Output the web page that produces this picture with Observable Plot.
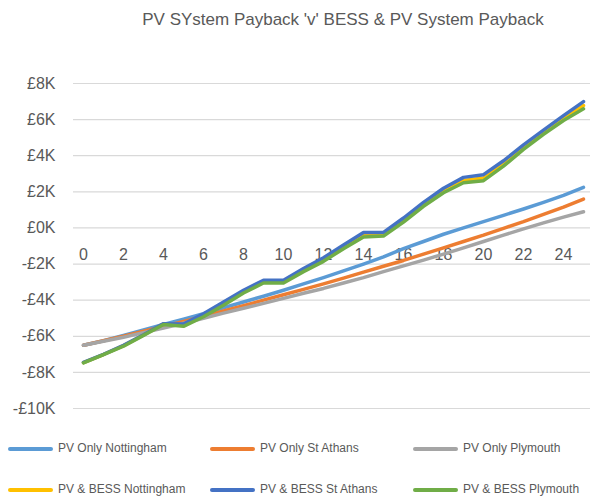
<!DOCTYPE html>
<html>
<head>
<meta charset="utf-8">
<script src="https://cdn.jsdelivr.net/npm/d3@7"></script>
<script src="https://cdn.jsdelivr.net/npm/@observablehq/plot@0.6"></script>
<style>
  html, body { margin: 0; padding: 0; background: #fff; }
  #wrap { position: relative; width: 603px; height: 497px; overflow: hidden; font-family: "Liberation Sans", Arial, sans-serif; color: #595959; }
  #title { position: absolute; left: 0; width: 686px; top: 10px; text-align: center; font-size: 17px; }
  #chart { position: absolute; left: 0; top: 0; }
  .leg { position: absolute; font-size: 12px; white-space: nowrap; }
  .sw { position: absolute; height: 4px; border-radius: 2px; }
</style>
</head>
<body>
<div id="wrap">
  <div id="chart"></div>
  <div id="title">PV SYstem Payback 'v' BESS &amp; PV System Payback</div>
  <div id="legend"></div>
</div>
<script>
const years = [0,1,2,3,4,5,6,7,8,9,10,11,12,13,14,15,16,17,18,19,20,21,22,23,24,25];

const seriesNames = ["PV Only Nottingham","PV Only St Athans","PV Only Plymouth","PV & BESS Nottingham","PV & BESS St Athans","PV & BESS Plymouth"];
const seriesColors = ["#5B9BD5","#ED7D31","#A5A5A5","#FFC000","#4472C4","#70AD47"];

// values in £K
const pvOnlyNottingham = [-6.5,-6.25,-5.95,-5.65,-5.35,-5.05,-4.75,-4.42,-4.1,-3.78,-3.45,-3.1,-2.75,-2.38,-2.0,-1.6,-1.15,-0.75,-0.35,0.0,0.35,0.7,1.05,1.42,1.8,2.25];
const pvOnlyStAthans   = [-6.5,-6.25,-6.0,-5.72,-5.45,-5.18,-4.9,-4.6,-4.3,-4.0,-3.7,-3.4,-3.1,-2.78,-2.45,-2.12,-1.8,-1.45,-1.1,-0.75,-0.4,-0.02,0.35,0.75,1.15,1.6];
const pvOnlyPlymouth   = [-6.5,-6.28,-6.05,-5.8,-5.55,-5.28,-5.0,-4.72,-4.45,-4.18,-3.9,-3.62,-3.35,-3.05,-2.75,-2.42,-2.1,-1.78,-1.45,-1.1,-0.75,-0.4,-0.05,0.28,0.6,0.9];
const bessNottingham   = [-7.46,-7.01,-6.52,-5.93,-5.32,-5.4,-4.85,-4.2,-3.53,-2.98,-2.98,-2.34,-1.76,-1.06,-0.4,-0.36,0.42,1.3,2.06,2.63,2.76,3.55,4.46,5.28,6.07,6.78];
const bessStAthans     = [-7.45,-7.0,-6.5,-5.92,-5.3,-5.32,-4.75,-4.1,-3.45,-2.9,-2.9,-2.25,-1.65,-0.95,-0.25,-0.25,0.55,1.42,2.2,2.8,2.95,3.72,4.6,5.42,6.22,7.0];
const bessPlymouth     = [-7.47,-7.02,-6.55,-5.95,-5.35,-5.45,-4.92,-4.28,-3.6,-3.05,-3.05,-2.42,-1.85,-1.15,-0.5,-0.45,0.32,1.2,1.95,2.5,2.62,3.42,4.35,5.18,5.95,6.6];

const yTicks = [-10,-8,-6,-4,-2,0,2,4,6,8];
const xTickLabels = [0,2,4,6,8,10,12,14,16,18,20,22,24];

const allSeries = [pvOnlyNottingham, pvOnlyStAthans, pvOnlyPlymouth, bessNottingham, bessStAthans, bessPlymouth];
const rows = [];
allSeries.forEach((vals, i) => vals.forEach((v, j) => rows.push({series: seriesNames[i], year: years[j], value: v})));

const fmt = d => d < 0 ? "-£" + (-d) + "K" : "£" + d + "K";

const chart = Plot.plot({
  width: 603,
  height: 430,
  marginLeft: 73,
  marginRight: 13,
  marginTop: 83,
  marginBottom: 22,
  style: {fontFamily: "'Liberation Sans', Arial, sans-serif", color: "#595959", background: "transparent"},
  x: {domain: [-0.5, 25.35], axis: null},
  y: {domain: [-10, 8], ticks: yTicks, tickFormat: fmt},
  color: {domain: seriesNames, range: seriesColors},
  marks: [
    Plot.ruleY(yTicks, {stroke: "#d9d9d9", strokeWidth: 1.2}),
    Plot.axisY({ticks: yTicks, tickFormat: fmt, tickSize: 0, tickPadding: 18, fontSize: 16, fill: "#595959", label: null}),
    Plot.text(xTickLabels, {x: d => d, y: () => 0, text: d => String(d), dy: 27, fontSize: 16, fill: "#595959", textAnchor: "middle"}),
    Plot.line(rows, {x: "year", y: "value", z: "series", stroke: "series", strokeWidth: 3.5, strokeLinejoin: "round", strokeLinecap: "round"})
  ]
});
document.getElementById("chart").appendChild(chart);

// legend
const legend = document.getElementById("legend");
const legPos = [[8,449],[210,449],[413,449],[8,490],[210,490],[413,490]];
seriesNames.forEach((name, i) => {
  const [lx, ly] = legPos[i];
  const sw = document.createElement("div");
  sw.className = "sw";
  sw.style.left = lx + "px";
  sw.style.top = (ly - 2) + "px";
  sw.style.width = "45px";
  sw.style.background = seriesColors[i];
  legend.appendChild(sw);
  const t = document.createElement("div");
  t.className = "leg";
  t.style.left = (lx + 50) + "px";
  t.style.top = (ly - 8) + "px";
  t.textContent = name;
  legend.appendChild(t);
});
</script>
</body>
</html>
